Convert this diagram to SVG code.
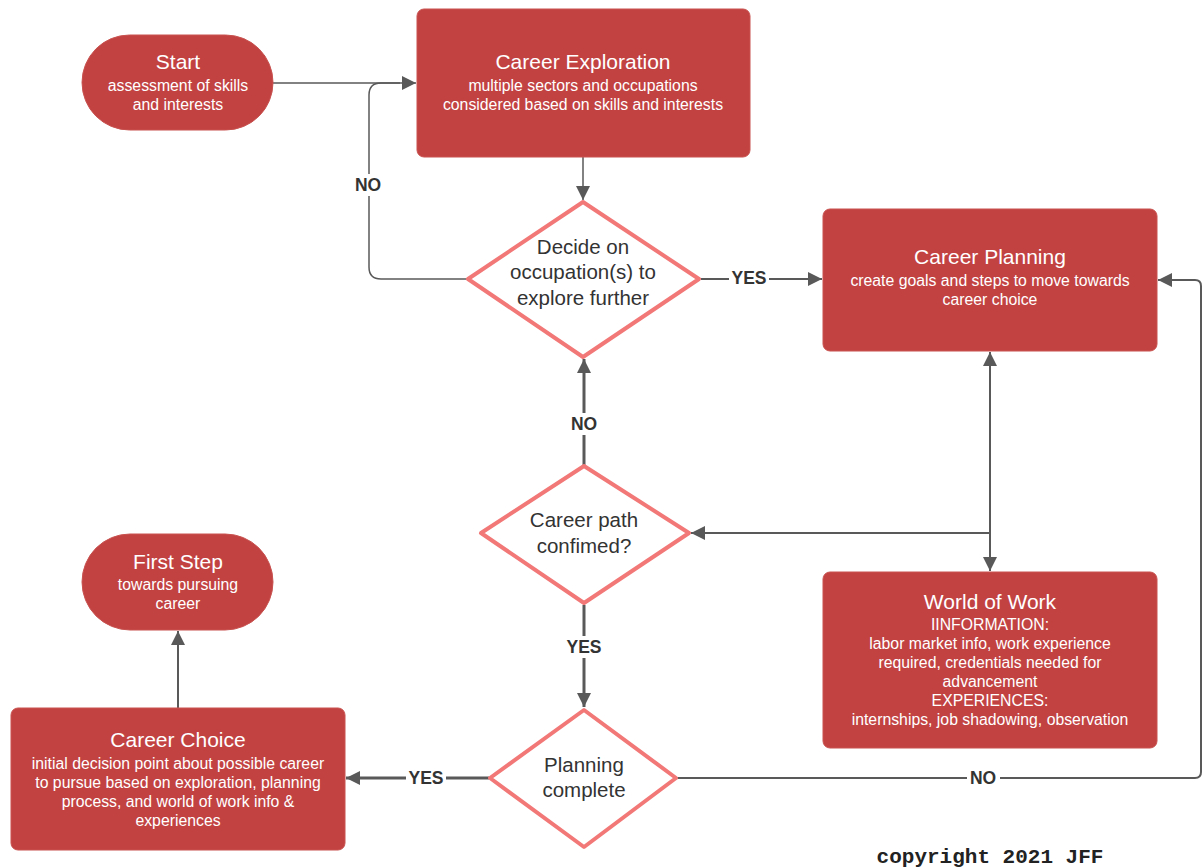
<svg xmlns="http://www.w3.org/2000/svg" width="1202" height="867" viewBox="0 0 1202 867">
<style>
.node{fill:#c24242;stroke:#c8524f;stroke-width:1}
.dia{fill:#fff;stroke:#f27878;stroke-width:4;stroke-linejoin:round}
.t{font-family:"Liberation Sans",Arial,sans-serif;fill:#fff;text-anchor:middle}
.h{font-size:21px}
.s{font-size:15.8px}
.d{font-family:"Liberation Sans",Arial,sans-serif;fill:#333;text-anchor:middle;font-size:20.5px}
.lbl{font-family:"Liberation Sans",Arial,sans-serif;fill:#333;text-anchor:middle;font-size:17.5px;font-weight:bold}
.c{fill:none;stroke:#595959;stroke-width:2}
.c1{fill:none;stroke:#595959;stroke-width:1.5}
.c3{fill:none;stroke:#595959;stroke-width:3}
.bg{fill:#fff}
</style>
<defs>
<marker id="ah" viewBox="0 0 10 10" refX="10" refY="5" markerWidth="20" markerHeight="14" markerUnits="userSpaceOnUse" orient="auto">
<path d="M0,0 L10,5 L0,10 z" fill="#595959"/>
</marker>
</defs>
<rect width="1202" height="867" fill="#fff"/>
<g id="connectors">
<path class="c1" d="M273,83 H416" marker-end="url(#ah)"/>
<path class="c1" d="M467,279 H381 Q369,279 369,267 V95 Q369,83 381,83 H400"/>
<path class="c1" d="M583,157 V200" marker-end="url(#ah)"/>
<path class="c" d="M701,279 H822" marker-end="url(#ah)"/>
<path class="c" d="M990,552 V352" marker-end="url(#ah)"/>
<path class="c" d="M990,520 V571" marker-end="url(#ah)"/>
<path class="c" d="M990,533 H691" marker-end="url(#ah)"/>
<path class="c3" d="M584,465 V359" marker-end="url(#ah)"/>
<path class="c3" d="M584,605 V707" marker-end="url(#ah)"/>
<path class="c3" d="M489,778 H346" marker-end="url(#ah)"/>
<path class="c" d="M178,708 V631" marker-end="url(#ah)"/>
<path class="c" d="M677,778 H1195 Q1201,778 1201,772 V286 Q1201,280 1195,280 H1158" marker-end="url(#ah)"/>
<rect class="bg" x="352" y="174" width="34" height="22"/>
<text class="lbl" x="368" y="191">NO</text>
<rect class="bg" x="729" y="268" width="40" height="20"/>
<text class="lbl" x="749" y="284">YES</text>
<rect class="bg" x="567" y="413" width="34" height="22"/>
<text class="lbl" x="584" y="430">NO</text>
<rect class="bg" x="563" y="636" width="42" height="22"/>
<text class="lbl" x="584" y="653">YES</text>
<rect class="bg" x="406" y="767" width="40" height="20"/>
<text class="lbl" x="426" y="784">YES</text>
<rect class="bg" x="967" y="767" width="33" height="20"/>
<text class="lbl" x="983" y="784">NO</text>
</g>
<g id="start">
<rect class="node" x="82" y="35" width="191" height="95" rx="47.5"/>
<text class="t h" x="178" y="69">Start</text>
<text class="t s" x="178" y="91">assessment of skills</text>
<text class="t s" x="178" y="110">and interests</text>
</g>
<g id="career-exploration">
<rect class="node" x="417" y="9" width="333" height="148" rx="7"/>
<text class="t h" x="583" y="69">Career Exploration</text>
<text class="t s" x="583" y="91">multiple sectors and occupations</text>
<text class="t s" x="583" y="110">considered based on skills and interests</text>
</g>
<g id="decide">
<path class="dia" d="M583,202 L699,279 L583,357 L468,279 Z"/>
<text class="d" x="583" y="254">Decide on</text>
<text class="d" x="583" y="279">occupation(s) to</text>
<text class="d" x="583" y="305">explore further</text>
</g>
<g id="career-planning">
<rect class="node" x="823" y="209" width="334" height="142" rx="7"/>
<text class="t h" x="990" y="264">Career Planning</text>
<text class="t s" x="990" y="286">create goals and steps to move towards</text>
<text class="t s" x="990" y="305">career choice</text>
</g>
<g id="career-path">
<path class="dia" d="M584,466 L689,533 L584,603 L481,533 Z"/>
<text class="d" x="584" y="527">Career path</text>
<text class="d" x="584" y="553">confimed?</text>
</g>
<g id="world-of-work">
<rect class="node" x="823" y="572" width="334" height="176" rx="7"/>
<text class="t h" x="990" y="609">World of Work</text>
<text class="t s" x="990" y="630">IINFORMATION:</text>
<text class="t s" x="990" y="649">labor market info, work experience</text>
<text class="t s" x="990" y="668">required, credentials needed for</text>
<text class="t s" x="990" y="687">advancement</text>
<text class="t s" x="990" y="706">EXPERIENCES:</text>
<text class="t s" x="990" y="725">internships, job shadowing, observation</text>
</g>
<g id="planning-complete">
<path class="dia" d="M584,710 L676,778 L584,847 L490,778 Z"/>
<text class="d" x="584" y="772">Planning</text>
<text class="d" x="584" y="797">complete</text>
</g>
<g id="career-choice">
<rect class="node" x="11" y="708" width="334" height="142" rx="7"/>
<text class="t h" x="178" y="747">Career Choice</text>
<text class="t s" x="178" y="769">initial decision point about possible career</text>
<text class="t s" x="178" y="788">to pursue based on exploration, planning</text>
<text class="t s" x="178" y="807">process, and world of work info &amp;</text>
<text class="t s" x="178" y="826">experiences</text>
</g>
<g id="first-step">
<rect class="node" x="82" y="534" width="191" height="96" rx="48"/>
<text class="t h" x="178" y="569">First Step</text>
<text class="t s" x="178" y="590">towards pursuing</text>
<text class="t s" x="178" y="609">career</text>
</g>
<text x="990" y="863" font-family="'Liberation Mono','Courier New',monospace" font-weight="bold" font-size="21" fill="#222" text-anchor="middle">copyright 2021 JFF</text>
</svg>
